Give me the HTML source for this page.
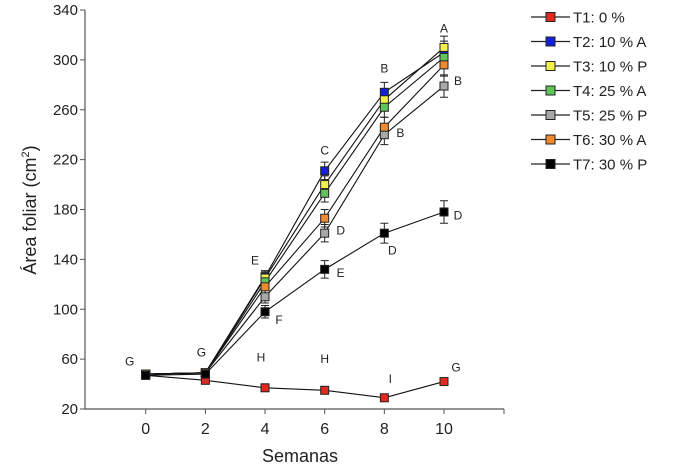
<!DOCTYPE html>
<html><head><meta charset="utf-8"><style>body{margin:0;background:#fff}svg{font-family:"Liberation Sans",Arial,sans-serif}</style></head>
<body>
<svg id="c" width="675" height="471" xmlns="http://www.w3.org/2000/svg"></svg>
<script>
const weeks=[0,2,4,6,8,10];
const yTicks=[20,60,100,140,180,220,260,300,340];
const names=["T1: 0 %","T2: 10 % A","T3: 10 % P","T4: 25 % A","T5: 25 % P","T6: 30 % A","T7: 30 % P"];
const colors=["#e02a1f","#1420d8","#f4f050","#5fc45a","#a8a8a8","#f08a30","#000000"];
const t1=[47,43,37,35,29,42];
const t2=[48,49,126,211,274,306];
const t3=[48,49,125,200,268,310];
const t4=[48,49,122,193,262,302];
const t5=[48,49,110,161,240,279];
const t6=[48,49,118,173,246,296];
const t7=[47,48,98,132,161,178];
const errs=[2,2,5,7,8,9];
const errsT1=[1,1,1.5,1.5,1.5,2];
const letters=[["G",0,55,-16],["G",2,62,-4],["E",4,136,-10],["H",4,58,-4],["H",6,57,0],["C",6,224,0],["B",8,290,0],["A",10,322,0],["B",10,280,14],["B",8,238,16],["D",6,160,16],["D",10,172,14],["D",8,144,8],["E",6,126,16],["F",4,88,14],["I",8,41,6],["G",10,50,12]];
const series=[t1,t2,t3,t4,t5,t6,t7];
const X=v=>145.7+v*29.83, Y=v=>409-(v-20)*399/320;
const svg=document.getElementById('c');const NS="http://www.w3.org/2000/svg";
function el(t,a,p){const e=document.createElementNS(NS,t);for(const k in a)e.setAttribute(k,a[k]);(p||svg).appendChild(e);return e;}
let ax=el('line',{x1:85,y1:409,x2:504,y2:409,stroke:'#555','stroke-width':1.2});

let ay=el('line',{x1:85,y1:10,x2:85,y2:409,stroke:'#555','stroke-width':1.2});

el('line',{x1:504,y1:409,x2:504,y2:414,stroke:'#555'});
weeks.forEach(w=>{el('line',{x1:X(w),y1:409,x2:X(w),y2:414,stroke:'#555'});
 const t=el('text',{x:X(w),y:434,'text-anchor':'middle','font-size':16,fill:'#222'});t.textContent=w;
 });
yTicks.forEach(v=>{el('line',{x1:80,y1:Y(v),x2:85,y2:Y(v),stroke:'#555'});
 const t=el('text',{x:78,y:Y(v)+5,'text-anchor':'end','font-size':15,fill:'#222'});t.textContent=v;
 });
let xt=el('text',{x:300,y:462,'text-anchor':'middle','font-size':18,fill:'#222'});xt.textContent="Semanas";

let yt=el('text',{x:0,y:0,'text-anchor':'middle','font-size':18,fill:'#222',transform:'translate(36,210) rotate(-90)'});
yt.innerHTML='Área foliar (cm<tspan dy="-7" font-size="11">2</tspan><tspan dy="7">)</tspan>';

series.forEach((s,i)=>{
 const g=el('g',{});
 el('polyline',{points:s.map((v,j)=>X(weeks[j])+','+Y(v)).join(' '),fill:'none',stroke:'#111','stroke-width':1.1},g);
 const er=i===0?errsT1:errs;
 s.forEach((v,j)=>{const x=X(weeks[j]),e=er[j];
  el('path',{d:`M${x},${Y(v+e)}V${Y(v-e)}M${x-4},${Y(v+e)}h8M${x-4},${Y(v-e)}h8`,stroke:'#222','stroke-width':1},g);});
});
series.forEach((s,i)=>{s.forEach((v,j)=>{const r=el('rect',{x:X(weeks[j])-4,y:Y(v)-4,width:8,height:8,fill:colors[i],stroke:'#222','stroke-width':1});
 });});
letters.forEach(l=>{const t=el('text',{x:X(l[1])+l[3],y:Y(l[2]),'text-anchor':'middle','font-size':12,fill:'#222'});t.textContent=l[0];
 });
names.forEach((n,i)=>{const y=17+i*24.5;const g=el('g',{});
 
 el('line',{x1:531,y1:y,x2:570,y2:y,stroke:'#222','stroke-width':1.2},g);
 el('rect',{x:546,y:y-4.5,width:9,height:9,fill:colors[i],stroke:'#222'},g);
 const t=el('text',{x:573,y:y+5.5,'font-size':15,fill:'#222'},g);t.textContent=n;});
</script>
</body></html>
